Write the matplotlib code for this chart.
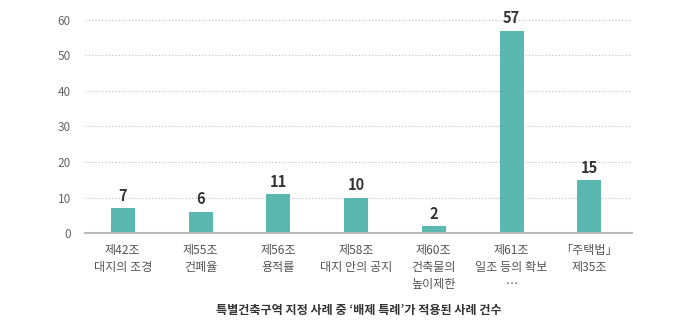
import matplotlib
matplotlib.use("Agg")
import matplotlib.pyplot as plt

plt.rcParams['font.family'] = ['Noto Sans CJK KR', 'DejaVu Sans']

# data
categories = ["제42조\n대지의 조경", "제55조\n건폐율", "제56조\n용적률", "제58조\n대지 안의 공지",
              "제60조\n건축물의\n높이제한", "제61조\n일조 등의 확보\n…", "「주택법」\n제35조"]
counts = [7, 6, 11, 10, 2, 57, 15]
yticks = [0, 10, 20, 30, 40, 50, 60]
title = "특별건축구역 지정 사례 중 ‘배제 특례’가 적용된 사례 건수"

fig = plt.figure(figsize=(7, 3.32), dpi=100)
ax = fig.add_axes([0.121, 0.298, 0.782, 0.642])

x = range(len(categories))
ax.bar(x, counts, width=0.31, color="#5bb8b0", zorder=3)
for xi, v in zip(x, counts):
    ax.text(xi, v + 1.2, str(v), ha="center", va="bottom", fontsize=10.5,
            fontweight="bold", color="#333333")

ax.set_xlim(-0.49, 6.55)
ax.set_ylim(0, 60)
ax.set_yticks(yticks)
ax.set_xticks(list(x))
ax.set_xticklabels(categories, fontsize=8.7, color="#555555", linespacing=1.4, va="top")
ax.tick_params(axis="y", length=0, labelsize=8.5, labelcolor="#666666", pad=10)
ax.tick_params(axis="x", length=0, pad=8)
ax.yaxis.grid(True, linestyle=(0, (1, 2)), color="#bbbbbb", linewidth=0.8, zorder=0)
for s in ["top", "right", "left"]:
    ax.spines[s].set_visible(False)
ax.spines["bottom"].set_color("#bbbbbb")
ax.spines["bottom"].set_linewidth(1.5)
ax.spines["bottom"].set_zorder(4)

fig.text(0.512, 0.065, title, ha="center", va="center", fontsize=8.7,
         fontweight="bold", color="#333333")

fig.savefig("out.png", dpi=100, facecolor="white")
